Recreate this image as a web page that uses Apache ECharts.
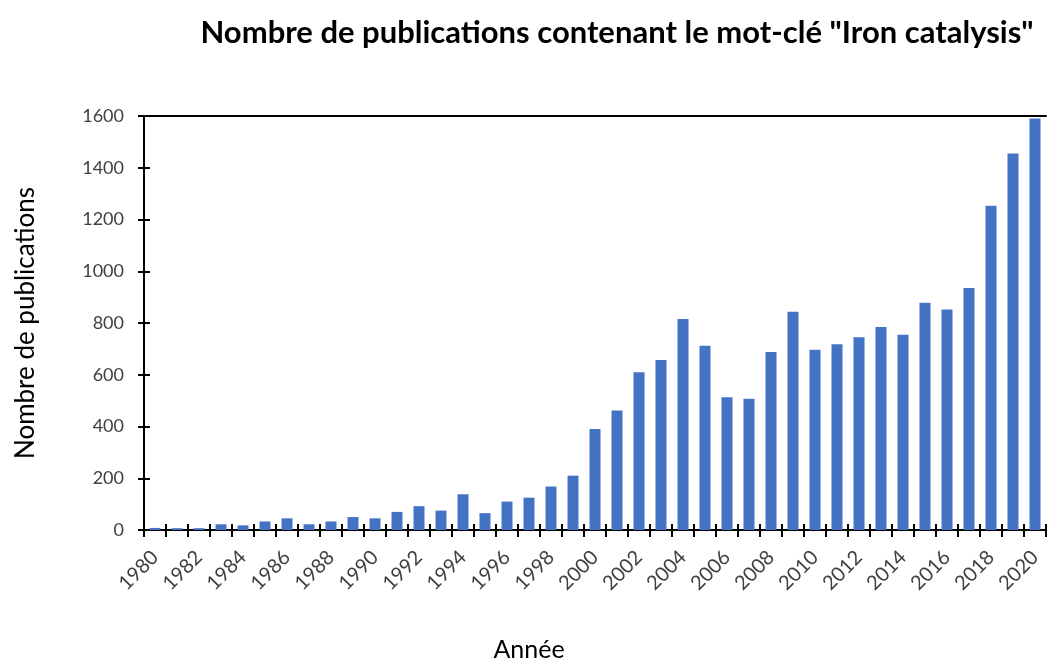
<!DOCTYPE html>
<html><head><meta charset="utf-8">
<script src="https://cdn.jsdelivr.net/npm/echarts@6/dist/echarts.min.js"></script>
<style>html,body{margin:0;padding:0;background:#fff;overflow:hidden}#c{width:1047px;height:661px}</style>
</head><body><div id="c"></div>
<script>
const years = [];
for (let y = 1980; y <= 2020; y++) years.push(String(y));
const publications = [8,7,7,22,18,33,45,22,33,50,45,70,92,75,138,65,110,125,168,210,
  390,462,610,657,815,712,513,507,688,843,697,718,745,785,755,878,852,935,1253,1455,1590];
const yTicks = {min:0, max:1600, interval:200};

const chart = echarts.init(document.getElementById('c'));
const lbl = {fontFamily:'Lato', fontSize:18, color:'#404040'};
chart.setOption({
  animation:false,
  title:{text:'Nombre de publications contenant le mot-clé "Iron catalysis"', left:612, textAlign:'center', top:12,
    textStyle:{fontFamily:'Lato', fontWeight:'bold', fontSize:31, color:'#000'}},
  grid:{left:144, right:1, top:116, bottom:131, containLabel:false, outerBoundsMode:'none'},
  xAxis:[
    {type:'category', data:years, position:'bottom',
     axisLine:{lineStyle:{color:'#000', width:2}},
     axisTick:{show:true, interval:0, length:7, lineStyle:{color:'#000', width:2}},
     axisLabel:Object.assign({}, lbl, {interval:1, rotate:45, margin:24, fontSize:20}),
     name:'Année', nameLocation:'middle', nameGap:107,
     nameTextStyle:{fontFamily:'Lato', fontSize:25, color:'#000', padding:[0,132,0,0]}},
    {type:'category', data:years, position:'bottom',
     axisLine:{show:false},
     axisTick:{show:true, inside:true, interval:0, length:6, lineStyle:{color:'#000', width:2}},
     axisLabel:{show:false}},
    {type:'category', data:years, position:'top',
     axisLine:{show:true, lineStyle:{color:'#000', width:2}},
     axisTick:{show:false}, axisLabel:{show:false}}
  ],
  yAxis:[
    {type:'value', min:yTicks.min, max:yTicks.max, interval:yTicks.interval,
     axisLine:{show:true, lineStyle:{color:'#000', width:2}},
     axisTick:{show:true, length:6, lineStyle:{color:'#000', width:2}},
     splitLine:{show:false},
     axisLabel:Object.assign({margin:20, formatter:function(v){return String(v);}}, lbl),
     name:'Nombre de publications', nameLocation:'middle', nameGap:105,
     nameTextStyle:{fontFamily:'Lato', fontSize:26, color:'#000'}},
    {type:'value', min:yTicks.min, max:yTicks.max, interval:yTicks.interval, position:'left',
     axisLine:{show:false},
     axisTick:{show:true, inside:true, length:6, lineStyle:{color:'#000', width:2}},
     splitLine:{show:false}, axisLabel:{show:false}}
  ],
  series:[{type:'bar', data:publications, xAxisIndex:0, yAxisIndex:0,
    barCategoryGap:'50%', itemStyle:{color:'#4472C4'}}]
});
</script></body></html>
